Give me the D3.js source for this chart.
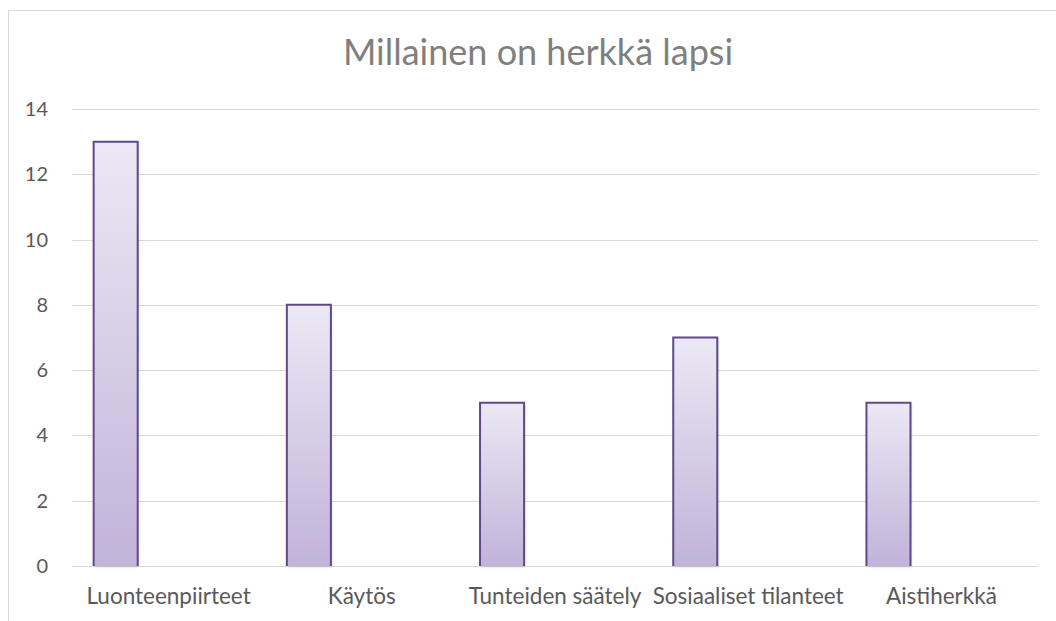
<!DOCTYPE html>
<html>
<head>
<meta charset="utf-8">
<script src="https://cdn.jsdelivr.net/npm/d3@7"></script>
<style>
html,body{margin:0;padding:0;background:#fff;}
svg{display:block;}
</style>
</head>
<body>
<script>
const title = "Millainen on herkkä lapsi";
const categories = ["Luonteenpiirteet","Käytös","Tunteiden säätely","Sosiaaliset tilanteet","Aistiherkkä"];
const values = [13, 8, 5, 7, 5];
const yTicks = [0, 2, 4, 6, 8, 10, 12, 14];

const W = 1056, H = 621;
const plot = {left: 72, right: 1038, top: 109, bottom: 566};
const font = "Lato, 'Open Sans', sans-serif";

const svg = d3.select("body").append("svg").attr("width", W).attr("height", H);

const defs = svg.append("defs");
const grad = defs.append("linearGradient").attr("id","barGrad").attr("x1",0).attr("y1",0).attr("x2",0).attr("y2",1);
grad.append("stop").attr("offset","0%").attr("stop-color","#ECE8F4");
grad.append("stop").attr("offset","100%").attr("stop-color","#C1B3D9");
const filt = defs.append("filter").attr("id","shadow").attr("x","-20%").attr("y","-5%").attr("width","140%").attr("height","110%");
filt.append("feDropShadow").attr("dx",1).attr("dy",1).attr("stdDeviation",1.2).attr("flood-color","#000").attr("flood-opacity",0.18);

// outer frame
svg.append("rect").attr("x",8.5).attr("y",10.5).attr("width",1100).attr("height",700)
  .attr("fill","none").attr("stroke","#d9d9d9").attr("stroke-width",1);

const x = d3.scaleBand().domain(categories).range([plot.left, plot.right]).paddingInner(0).paddingOuter(0);
const y = d3.scaleLinear().domain([0, 14]).range([plot.bottom, plot.top]);

// gridlines
svg.append("g").selectAll("line").data(yTicks).join("line")
  .attr("x1", plot.left).attr("x2", plot.right)
  .attr("y1", d => Math.round(y(d)) + 0.5).attr("y2", d => Math.round(y(d)) + 0.5)
  .attr("stroke", "#d9d9d9").attr("stroke-width", 1);

// y tick labels
svg.append("g").selectAll("text").data(yTicks).join("text")
  .attr("x", 48).attr("y", d => y(d))
  .attr("dy","0.35em")
  .attr("text-anchor","end")
  .attr("font-family", font).attr("font-size", 20).attr("fill","#595959")
  .text(d => d);

// bars
const bw = x.bandwidth();
const bars = svg.append("g");
categories.forEach((c, i) => {
  const x0 = x(c) + bw * 0.112;
  const w = bw * 0.228;
  const yt = y(values[i]);
  const yb = y(0);
  bars.append("rect").attr("x", x0).attr("y", yt).attr("width", w).attr("height", yb - yt)
    .attr("fill","url(#barGrad)").attr("filter","url(#shadow)");
  bars.append("path")
    .attr("d", `M${x0},${yb} L${x0},${yt} L${x0 + w},${yt} L${x0 + w},${yb}`)
    .attr("fill","none").attr("stroke","#5E4A8A").attr("stroke-width",2);
});

// category labels
svg.append("g").selectAll("text").data(categories).join("text")
  .attr("x", d => x(d) + bw / 2).attr("y", 604)
  .attr("text-anchor","middle")
  .attr("font-family", font).attr("font-size", 22.5).attr("fill","#595959")
  .text(d => d);

// title
svg.append("text").attr("x", 538).attr("y", 65)
  .attr("text-anchor","middle")
  .attr("font-family", font).attr("font-size", 36).attr("fill","#7F7F7F")
  .text(title);
</script>
</body>
</html>
